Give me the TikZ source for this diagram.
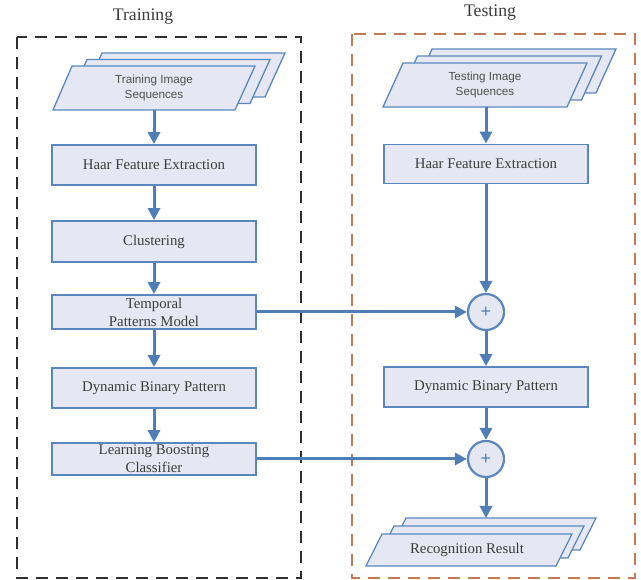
\documentclass[tikz,border=0pt]{standalone}
\usepackage{fontspec}
\setmainfont{Liberation Serif}
\setsansfont{Liberation Sans}
\usetikzlibrary{arrows.meta}

\definecolor{boxblue}{HTML}{5A87BE}
\definecolor{boxfill}{HTML}{E5E8F2}
\definecolor{flowblue}{HTML}{4F7DB5}
\definecolor{textgray}{HTML}{3C3C3C}
\definecolor{trainframe}{HTML}{303030}
\definecolor{testframe}{HTML}{C47A55}

\tikzset{
  proc/.style={draw=boxblue, fill=boxfill, line width=1.8pt, minimum width=204pt,
    minimum height=40pt, inner sep=0pt, align=center, text=textgray,
    font=\fontsize{14.8}{18}\selectfont},
  stack/.style={draw=boxblue, fill=boxfill, line width=1.3pt, line join=miter},
  seqtext/.style={align=center, text=textgray!90, inner sep=0pt,
    font=\sffamily\fontsize{11.7}{15}\selectfont},
  plus/.style={circle, draw=boxblue, fill=boxfill, line width=2.2pt, minimum size=36pt,
    inner sep=0pt, text=flowblue, font=\sffamily\fontsize{18}{18}\selectfont},
  flow/.style={draw=flowblue, line width=3pt, -{Triangle[length=12pt,width=12pt]}},
  frame/.style={line width=1.8pt, dash pattern=on 12pt off 8pt},
  title/.style={text=textgray, font=\fontsize{17.7}{20}\selectfont}
}

\begin{document}
\begin{tikzpicture}[x=1pt, y=-1pt]
  \useasboundingbox (0,0) rectangle (641,580);

  % ------------------ frames and titles ------------------
  \draw[frame, draw=trainframe] (17,37) rectangle (301,578);
  \draw[frame, draw=testframe] (352,34) rectangle (635,578);
  \node[title] (traintitle) at (143,17) {Training};
  \node[title] (testtitle) at (490,13) {Testing};

  % ------------------ training column ------------------
  % image sequences (three sheets)
  \foreach \d in {2,1,0}
    \draw[stack, shift={(15*\d,-6.5*\d)}] (53,110) -- (235,110) -- (255,66) -- (72,66) -- cycle;
  \node[seqtext] (trainseq) at (154,88) {Training Image\\Sequences};
  \coordinate (trainseqbot) at (154,110);

  \node[proc] (lhaar) at (154,165) {Haar Feature Extraction};
  \node[proc, minimum height=41pt] (lclust) at (154,241.5) {Clustering};
  \node[proc, minimum height=34pt] (ltemp) at (154,312) {Temporal\\Patterns Model};
  \node[proc] (ldbp) at (154,388) {Dynamic Binary Pattern};
  \node[proc, minimum height=32pt] (llearn) at (154,459) {Learning Boosting\\Classifier};

  \draw[flow] (trainseqbot) -- (lhaar);
  \draw[flow] (lhaar) -- (lclust);
  \draw[flow] (lclust) -- (ltemp);
  \draw[flow] (ltemp) -- (ldbp);
  \draw[flow] (ldbp) -- (llearn);

  % ------------------ testing column ------------------
  \foreach \d in {2,1,0}
    \draw[stack, shift={(14.5*\d,-7*\d)}] (383,107) -- (567,107) -- (587,63) -- (403,63) -- cycle;
  \node[seqtext] (testseq) at (485,85) {Testing Image\\Sequences};
  \coordinate (testseqbot) at (486,107);

  \node[proc, minimum height=39pt] (rhaar) at (486,164) {Haar Feature Extraction};
  \node[plus] (plus1) at (486,312) {+};
  \node[proc] (rdbp) at (486,387) {Dynamic Binary Pattern};
  \node[plus] (plus2) at (486,459) {+};

  % recognition result (three sheets)
  \foreach \d in {2,1,0}
    \draw[stack, shift={(12*\d,-8*\d)}] (366,566) -- (556,566) -- (572,534) -- (382,534) -- cycle;
  \node[proc, draw=none, fill=none] (result) at (467,550) {Recognition Result};
  \coordinate (resulttop) at (486,518);

  \draw[flow] (testseqbot) -- (rhaar);
  \draw[flow] (rhaar) -- (plus1);
  \draw[flow] (plus1) -- (rdbp);
  \draw[flow] (rdbp) -- (plus2);
  \draw[flow] (plus2) -- (resulttop);

  % ------------------ cross links ------------------
  \draw[flow] (ltemp) -- (plus1);
  \draw[flow] (llearn) -- (plus2);
\end{tikzpicture}
\end{document}
